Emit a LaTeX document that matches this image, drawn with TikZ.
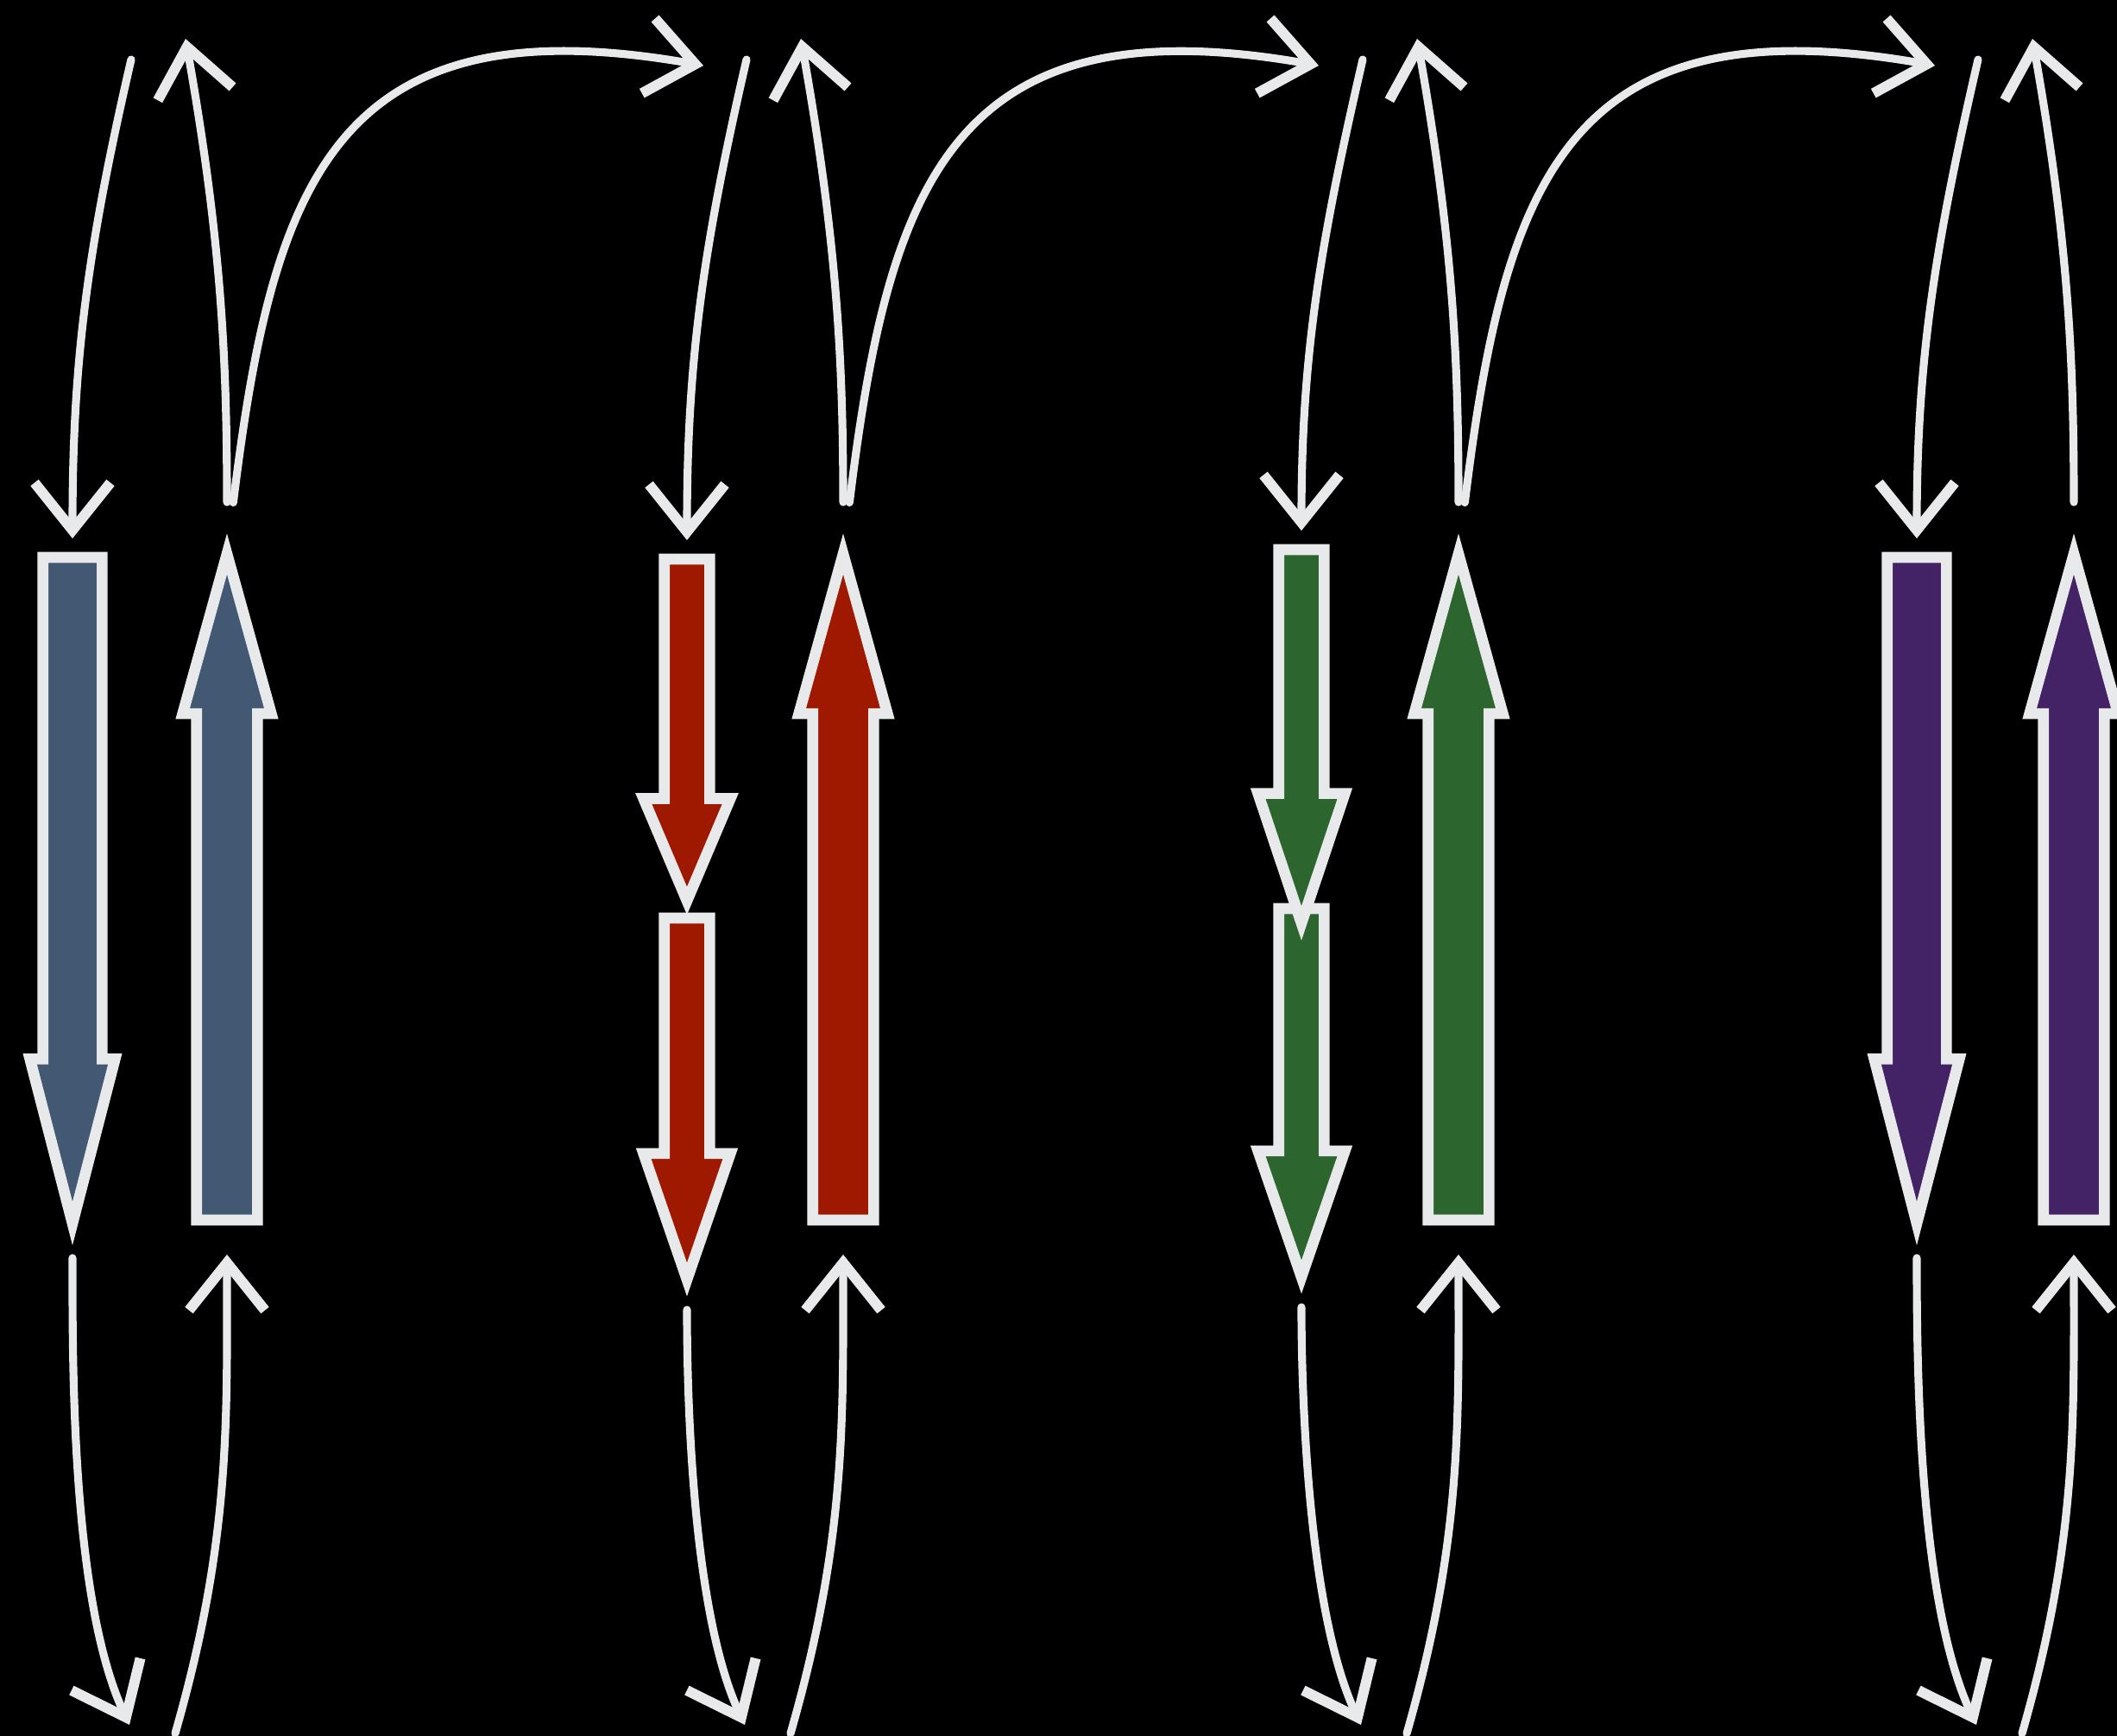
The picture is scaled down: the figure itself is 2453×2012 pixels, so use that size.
\documentclass[tikz,border=0pt]{standalone}
\usepackage{xcolor}
\usepackage{tikz}
\usetikzlibrary{arrows.meta,shapes.arrows}
\definecolor{chalk}{HTML}{E8E9EB}
\definecolor{slateblue}{HTML}{435873}
\definecolor{brickred}{HTML}{9F1800}
\definecolor{leafgreen}{HTML}{2D652E}
\definecolor{deeppurple}{HTML}{432266}
\tikzset{
  chalkline/.style={chalk, line width=2.6pt, line cap=round, -{Straight Barb[length=5.5mm, width=8.8mm, line width=3.4pt]}},
  bigarrow/.style={single arrow, draw=chalk, line width=3.6pt, line join=miter, outer sep=0pt, anchor=tail},
  downbar/.style={bigarrow, shape border rotate=270},
  upbar/.style={bigarrow, shape border rotate=90, inner sep=2.9mm, single arrow head extend=1.6mm, single arrow tip angle=31, minimum height=77.2mm},
  longshaft/.style={inner sep=2.8mm, single arrow head extend=1.5mm, single arrow tip angle=29, minimum height=77.2mm},
  thinshaft/.style={inner sep=2mm, single arrow head extend=2.4mm}
}
\begin{document}
\begin{tikzpicture}[x=0.1mm, y=-0.1mm]
  \fill[black] (0,0) rectangle (2453,2012);
  \useasboundingbox (0,0) rectangle (2453,2012);
  % blue column
  \node[downbar, longshaft, fill=slateblue] (d1) at (84,646) {};
  \node[upbar, fill=slateblue] (u1) at (263,1414) {};
  % red column
  \node[downbar, thinshaft, fill=brickred, single arrow tip angle=38, minimum height=41.9mm] (d2b) at (796,1064) {};
  \node[downbar, thinshaft, fill=brickred, single arrow tip angle=46, minimum height=39.6mm] (d2a) at (796,648) {};
  \node[upbar, fill=brickred] (u2) at (977,1414) {};
  % green column
  \node[downbar, thinshaft, fill=leafgreen, single arrow tip angle=38, minimum height=42.7mm] (d3b) at (1508,1053) {};
  \node[downbar, thinshaft, fill=leafgreen, single arrow tip angle=37, minimum height=43.3mm] (d3a) at (1508,637) {};
  \node[upbar, fill=leafgreen] (u3) at (1690,1414) {};
  % purple column
  \node[downbar, longshaft, fill=deeppurple] (d4) at (2221,646) {};
  \node[upbar, fill=deeppurple] (u4) at (2403,1414) {};

  % free ends of the connectors
  \coordinate (a1) at (152,69);   \coordinate (b1) at (215,45);   \coordinate (c1) at (815,76);
  \coordinate (e1) at (150,1999); \coordinate (f1) at (203,2009);
  \coordinate (a2) at (865,69);   \coordinate (b2) at (928,45);   \coordinate (c2) at (1528,76);
  \coordinate (e2) at (863,1999); \coordinate (f2) at (916,2009);
  \coordinate (a3) at (1579,69);  \coordinate (b3) at (1642,45);  \coordinate (c3) at (2242,76);
  \coordinate (e3) at (1577,1999);\coordinate (f3) at (1630,2009);
  \coordinate (a4) at (2292,69);  \coordinate (b4) at (2355,45);
  \coordinate (e4) at (2290,1999);\coordinate (f4) at (2343,2009);

  % blue column
  \draw[chalkline, shorten >=2.2mm] (a1) to[out=-103, in=90] (d1.tail);
  \draw[chalkline, shorten <=6mm] (u1.tip) to[out=90, in=-80] (b1);
  \draw[chalkline, shorten <=6mm] (u1.tip) to[out=83, in=170, looseness=1.4] (c1);
  \draw[chalkline, shorten <=4mm] (d1.tip) to[out=-90, in=115, looseness=0.7] (e1);
  \draw[chalkline, shorten >=4mm] (f1) to[out=74, in=-90] (u1.tail);
  % red column
  \draw[chalkline, shorten >=2.2mm] (a2) to[out=-103, in=90] (d2a.tail);
  \draw[chalkline, shorten <=6mm] (u2.tip) to[out=90, in=-80] (b2);
  \draw[chalkline, shorten <=6mm] (u2.tip) to[out=83, in=170, looseness=1.4] (c2);
  \draw[chalkline, shorten <=3.5mm] (d2b.tip) to[out=-90, in=115, looseness=0.7] (e2);
  \draw[chalkline, shorten >=4mm] (f2) to[out=74, in=-90] (u2.tail);
  % green column
  \draw[chalkline, shorten >=2.2mm] (a3) to[out=-103, in=90] (d3a.tail);
  \draw[chalkline, shorten <=6mm] (u3.tip) to[out=90, in=-80] (b3);
  \draw[chalkline, shorten <=6mm] (u3.tip) to[out=83, in=170, looseness=1.4] (c3);
  \draw[chalkline, shorten <=3.5mm] (d3b.tip) to[out=-90, in=115, looseness=0.7] (e3);
  \draw[chalkline, shorten >=4mm] (f3) to[out=74, in=-90] (u3.tail);
  % purple column
  \draw[chalkline, shorten >=2.2mm] (a4) to[out=-103, in=90] (d4.tail);
  \draw[chalkline, shorten <=6mm] (u4.tip) to[out=90, in=-80] (b4);
  \draw[chalkline, shorten <=4mm] (d4.tip) to[out=-90, in=115, looseness=0.7] (e4);
  \draw[chalkline, shorten >=4mm] (f4) to[out=74, in=-90] (u4.tail);
\end{tikzpicture}
\end{document}
